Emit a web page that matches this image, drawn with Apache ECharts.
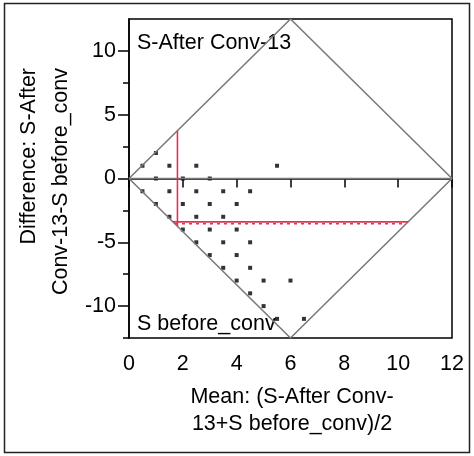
<!DOCTYPE html>
<html>
<head>
<meta charset="utf-8">
<script src="https://cdn.jsdelivr.net/npm/echarts@6/dist/echarts.min.js"></script>
<style>
html,body{margin:0;padding:0;background:#fff;}
#chart{width:474px;height:456px;}
</style>
</head>
<body>
<div id="chart"></div>
<script>
// ---- data ----
const pointMeans = [1, 0.5, 1.5, 2.5, 5.5, 1, 2, 3, 0.5, 1.5, 2.5, 3.5, 4.5, 1, 2, 3, 4, 1.5, 2.5, 3.5, 2, 3, 4, 2.5, 3.5, 4.5, 3, 4, 3.5, 4.5, 4, 5, 6, 4.5, 5, 5.5, 6.5];
const pointDiffs = [2, 1, 1, 1, 1, 0, 0, 0, -1, -1, -1, -1, -1, -2, -2, -2, -2, -3, -3, -3, -4, -4, -4, -5, -5, -5, -6, -6, -7, -7, -8, -8, -8, -9, -10, -11, -11];
const diamondX = [0, 6, 12, 6, 0];
const diamondY = [0, 12.5, 0, -12.5, 0];
const meanOfMeans = 1.8;
const meanDiffVertRange = [3.75, -3.75];
const meanDiff = -3.4;
const meanDiffRange = [1.63, 10.37];
const ciLower = -3.55;
const xTickLabels = [0, 2, 4, 6, 8, 10, 12];
const yTickLabels = [-10, -5, 0, 5, 10];
const yMinorTicks = [-12.5, -7.5, -2.5, 2.5, 7.5];
const topLabel = 'S-After Conv-13';
const bottomLabel = 'S before_conv';
const xTitle = ['Mean: (S-After Conv-', '13+S before_conv)/2'];
const yTitle = ['Difference: S-After', 'Conv-13-S before_conv'];

const FONT = 'Liberation Sans';
const TF = '21.5px ' + FONT;
const pts = pointMeans.map((m, i) => [m, pointDiffs[i]]);
const diamond = diamondX.map((x, i) => [x, diamondY[i]]);
const red = '#e8314f';
const gray = '#7a7a7a';

const chart = echarts.init(document.getElementById('chart'));
chart.setOption({
  animation: false,
  backgroundColor: '#fff',
  grid: { left: 129, top: 19, width: 323, height: 319, show: true, borderColor: '#000', borderWidth: 1.5, backgroundColor: 'transparent' },
  xAxis: {
    type: 'value', min: 0, max: 12, interval: 2,
    axisLine: { show: true, lineStyle: { color: '#000', width: 1.5 } },
    axisTick: { show: true, inside: false, length: 9, customValues: xTickLabels, lineStyle: { color: '#000', width: 1.5 } },
    axisLabel: { customValues: xTickLabels, margin: 15, color: '#000', fontSize: 21.5, fontFamily: FONT },
    splitLine: { show: false }
  },
  yAxis: [{
    type: 'value', min: -12.5, max: 12.5,
    axisLine: { show: true, lineStyle: { color: '#000', width: 1.5 } },
    axisTick: { show: true, length: 11, customValues: yTickLabels, lineStyle: { color: '#000', width: 1.5 } },
    axisLabel: { customValues: yTickLabels, margin: 13, color: '#000', fontSize: 21.5, fontFamily: FONT },
    splitLine: { show: false }
  }, {
    type: 'value', min: -12.5, max: 12.5, position: 'left',
    axisLine: { show: false },
    axisTick: { show: true, length: 6, customValues: yMinorTicks, lineStyle: { color: '#000', width: 1.5 } },
    axisLabel: { show: false },
    splitLine: { show: false }
  }],
  series: [
    { type: 'line', data: diamond, symbol: 'none', lineStyle: { color: gray, width: 1.6 }, silent: true },
    { type: 'line', data: [[0, 0], [12, 0]], symbol: 'none', lineStyle: { color: gray, width: 1.6 }, silent: true },
    { type: 'line', data: [[meanOfMeans, meanDiffVertRange[0]], [meanOfMeans, meanDiffVertRange[1]]], symbol: 'none', lineStyle: { color: red, width: 1.6 } },
    { type: 'line', data: [[meanDiffRange[0], meanDiff], [meanDiffRange[1], meanDiff]], symbol: 'none', lineStyle: { color: red, width: 1.6 } },
    { type: 'line', data: [[meanDiffRange[0] + 0.08, ciLower], [meanDiffRange[1] - 0.08, ciLower]], symbol: 'none', lineStyle: { color: red, width: 1.6, type: [3, 4] } },
    { type: 'scatter', data: pts, symbol: 'rect', symbolSize: 4, itemStyle: { color: '#000' } }
  ],
  graphic: [
    { type: 'rect', shape: { x: 4.5, y: 3.5, width: 465, height: 449 }, style: { fill: 'none', stroke: '#222', lineWidth: 1.5 }, silent: true },
    { type: 'text', x: 137, y: 43, style: { text: topLabel, font: TF, fill: '#000', textAlign: 'left', textVerticalAlign: 'middle' } },
    { type: 'text', x: 137, y: 324, style: { text: bottomLabel, font: TF, fill: '#000', textAlign: 'left', textVerticalAlign: 'middle' } },
    { type: 'text', x: 292, y: 397, style: { text: xTitle[0], font: TF, fill: '#000', textAlign: 'center', textVerticalAlign: 'middle' } },
    { type: 'text', x: 292, y: 424, style: { text: xTitle[1], font: TF, fill: '#000', textAlign: 'center', textVerticalAlign: 'middle' } },
    { type: 'text', x: 29, y: 68, rotation: Math.PI / 2, style: { text: yTitle[0], font: TF, fill: '#000', textAlign: 'right', textVerticalAlign: 'middle' } },
    { type: 'text', x: 61, y: 68, rotation: Math.PI / 2, style: { text: yTitle[1], font: TF, fill: '#000', textAlign: 'right', textVerticalAlign: 'middle' } }
  ]
});
</script>
</body>
</html>
